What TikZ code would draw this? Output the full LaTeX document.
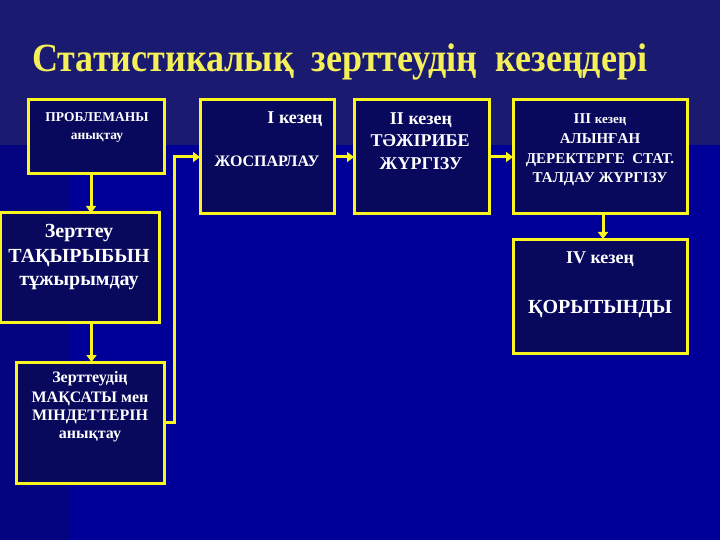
\documentclass[tikz,border=0pt]{standalone}
\usepackage{fontspec}
\setmainfont{Liberation Serif}
\usepackage{graphicx}
\usetikzlibrary{arrows.meta,calc}
\definecolor{bgtop}{RGB}{26,26,112}
\definecolor{bgbot}{RGB}{0,0,152}
\definecolor{bgleft}{RGB}{4,4,128}
\definecolor{boxfill}{RGB}{8,8,92}
\definecolor{boxyellow}{RGB}{250,245,30}
\definecolor{titleyellow}{RGB}{245,240,90}
\newcommand\fsz[1]{\fontsize{#1}{#1}\selectfont\bfseries}
\tikzset{
  stagebox/.style={draw=boxyellow, line width=3pt, fill=boxfill, inner sep=0pt, outer sep=0pt, anchor=north west},
  boxline/.style={text=white, inner sep=0pt, anchor=base},
  conn/.style={draw=boxyellow, line width=3pt, -{Triangle[length=7pt,width=10pt]}}
}
\begin{document}
\begin{tikzpicture}[x=1pt,y=-1pt]
  % background
  \fill[bgbot] (0,0) rectangle (720,540);
  \fill[bgleft] (0,145) rectangle (70,540);
  \fill[bgtop] (0,0) rectangle (720,145);
  \useasboundingbox (0,0) rectangle (720,540);
  % title
  \node[anchor=base west, inner sep=0pt, text=titleyellow] (title) at (32,72)
    {\resizebox{615pt}{\height}{\fsz{40}Статистикалық\ \ зерттеудің\ \ кезеңдері}};
  % boxes
  \node[stagebox, minimum width=136pt, minimum height=74pt] (A) at (28,100) {};
  \node[stagebox, minimum width=159pt, minimum height=109pt] (B) at (0,213) {};
  \node[stagebox, minimum width=148pt, minimum height=121pt] (C) at (16,362) {};
  \node[stagebox, minimum width=134pt, minimum height=114pt] (D) at (200,100) {};
  \node[stagebox, minimum width=135pt, minimum height=114pt] (E) at (354,100) {};
  \node[stagebox, minimum width=174pt, minimum height=114pt] (F) at (513,100) {};
  \node[stagebox, minimum width=174pt, minimum height=114pt] (G) at (513,239) {};
  % texts A
  \node[boxline] (a1) at (97,122) {\fsz{13.5}ПРОБЛЕМАНЫ};
  \node[boxline] (a2) at (97,140) {\fsz{13.5}анықтау};
  % texts B
  \node[boxline] (b1) at (79,237) {\fsz{20}Зерттеу};
  \node[boxline] (b2) at (79,262) {\fsz{20}ТАҚЫРЫБЫН};
  \node[boxline] (b3) at (79,285) {\fsz{20}тұжырымдау};
  % texts C
  \node[boxline] (c1) at (90,382) {\fsz{16}Зерттеудің};
  \node[boxline] (c2) at (90,402) {\fsz{16}МАҚСАТЫ мен};
  \node[boxline] (c3) at (90,420) {\fsz{16}МІНДЕТТЕРІН};
  \node[boxline] (c4) at (90,438) {\fsz{16}анықтау};
  % texts D
  \node[boxline] (d1) at (295,124) {\fsz{18}I кезең};
  \node[boxline] (d2) at (267,167) {\fsz{16}ЖОСПАРЛАУ};
  % texts E
  \node[boxline] (e1) at (421,125) {\fsz{18}II кезең};
  \node[boxline] (e2) at (420,147) {\fsz{18}ТӘЖІРИБЕ};
  \node[boxline] (e3) at (421,170) {\fsz{18}ЖҮРГІЗУ};
  % texts F
  \node[boxline] (f1) at (600,124) {\fsz{15}III \fsz{13}кезең};
  \node[boxline] (f2) at (600,144) {\fsz{15}АЛЫНҒАН};
  \node[boxline] (f3) at (600,164) {\fsz{15}ДЕРЕКТЕРГЕ\ \ СТАТ.};
  \node[boxline] (f4) at (600,183) {\fsz{15}ТАЛДАУ ЖҮРГІЗУ};
  % texts G
  \node[boxline] (g1) at (600,263) {\fsz{18}IV кезең};
  \node[boxline] (g2) at (600,313) {\fsz{20}ҚОРЫТЫНДЫ};
  % connectors
  \draw[conn] ([xshift=-5pt]A.south) -- ([xshift=-5pt]A.south |- B.north);
  \draw[conn] ([xshift=12pt]B.south) -- ([xshift=12pt]B.south |- C.north);
  \draw[conn] (C.east) -- ++(10,0) |- (D.west);
  \draw[conn] (D.east) -- (E.west);
  \draw[conn] (E.east) -- (F.west);
  \draw[conn] ([xshift=3pt]F.south) -- ([xshift=3pt]F.south |- G.north);
\end{tikzpicture}
\end{document}
